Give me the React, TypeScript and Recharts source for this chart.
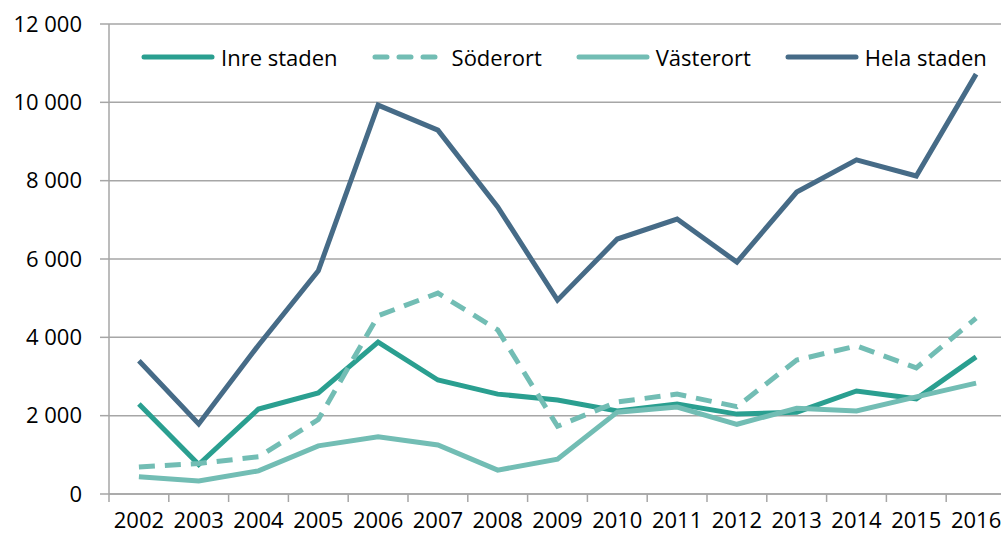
import { LineChart, Line, XAxis, YAxis, CartesianGrid } from "recharts";

const years = ["2002", "2003", "2004", "2005", "2006", "2007", "2008", "2009", "2010", "2011", "2012", "2013", "2014", "2015", "2016"];
const inreStaden = [2300, 750, 2170, 2580, 3880, 2910, 2550, 2400, 2120, 2300, 2040, 2090, 2630, 2430, 3500];
const soderort = [690, 780, 950, 1900, 4550, 5130, 4190, 1730, 2350, 2550, 2230, 3420, 3780, 3220, 4490];
const vasterort = [440, 330, 590, 1230, 1460, 1250, 610, 890, 2090, 2220, 1780, 2190, 2120, 2480, 2830];
const helaStaden = [3400, 1790, 3800, 5700, 9930, 9290, 7330, 4950, 6510, 7020, 5920, 7710, 8530, 8120, 10720];
const yTicks = [0, 2000, 4000, 6000, 8000, 10000, 12000];

const data = years.map((year, i) => ({
  year,
  inre: inreStaden[i],
  soder: soderort[i],
  vaster: vasterort[i],
  hela: helaStaden[i],
}));

const FONT = "'Open Sans', sans-serif";
const GRID = "#a6a6a6";
const CHART_W = 1006;
const Y_AXIS_W = 109;
const BAND = (CHART_W - Y_AXIS_W) / years.length;

const SERIES = [
  { key: "inre", name: "Inre staden", color: "#2a9f90", dash: undefined },
  { key: "soder", name: "Söderort", color: "#72bdb4", dash: "16 10" },
  { key: "vaster", name: "Västerort", color: "#72bdb4", dash: undefined },
  { key: "hela", name: "Hela staden", color: "#466b87", dash: undefined },
];

const fmt = (v: number) => String(v).replace(/\B(?=(\d{3})+(?!\d))/g, " ");

function XTick(props: any) {
  const { x, y, payload } = props;
  // tick marks sit between the categories, not under the labels
  const axisY = y - 10;
  return (
    <g>
      <line x1={x - BAND / 2} x2={x - BAND / 2} y1={axisY} y2={axisY + 8} stroke={GRID} strokeWidth={1.5} />
      <text x={x} y={y + 24} textAnchor="middle" fontSize={22} fontFamily={FONT} fill="#000">
        {payload.value}
      </text>
    </g>
  );
}

function LegendBox() {
  return (
    <div style={{ position: "absolute", top: 42, left: 141, width: 900, display: "flex", alignItems: "center", whiteSpace: "nowrap", fontFamily: FONT, fontSize: 22, color: "#000", lineHeight: "30px" }}>
      {SERIES.map((s) => (
        <div key={s.key} style={{ display: "flex", alignItems: "center", flexShrink: 0, marginRight: 34 }}>
          <svg width={74} height={8} style={{ marginRight: 6, flexShrink: 0 }}>
            <line x1={3} x2={71} y1={4} y2={4} stroke={s.color} strokeWidth={5} strokeLinecap="round" strokeDasharray={s.dash ? "12 12" : undefined} />
          </svg>
          <span>{s.name}</span>
        </div>
      ))}
    </div>
  );
}

export default function App() {
  return (
    <div style={{ position: "absolute", left: 0, top: 0, width: 1001, height: 533, overflow: "hidden", background: "#fff" }}>
      <LineChart width={CHART_W} height={533} data={data} margin={{ top: 24, right: 0, left: 0, bottom: 0 }}>
        <CartesianGrid vertical={false} stroke={GRID} strokeWidth={1.5} />
        <XAxis
          dataKey="year"
          height={39}
          interval={0}
          padding={{ left: BAND / 2, right: BAND / 2 }}
          axisLine={{ stroke: GRID, strokeWidth: 1.5 }}
          tickLine={false}
          tickSize={8}
          tickMargin={2}
          tick={<XTick />}
        />
        <YAxis
          width={Y_AXIS_W}
          domain={[0, 12000]}
          ticks={yTicks}
          tickFormatter={fmt}
          axisLine={{ stroke: GRID, strokeWidth: 1.5 }}
          tickLine={{ stroke: GRID, strokeWidth: 1.5 }}
          tickSize={9}
          tickMargin={18}
          tick={{ fontSize: 22, fontFamily: FONT, fill: "#000" }}
        />
        {SERIES.map((s) => (
          <Line
            key={s.key}
            type="linear"
            dataKey={s.key}
            name={s.name}
            stroke={s.color}
            strokeWidth={5}
            strokeDasharray={s.dash}
            dot={false}
            activeDot={false}
            isAnimationActive={false}
          />
        ))}
      </LineChart>
      <LegendBox />
    </div>
  );
}
